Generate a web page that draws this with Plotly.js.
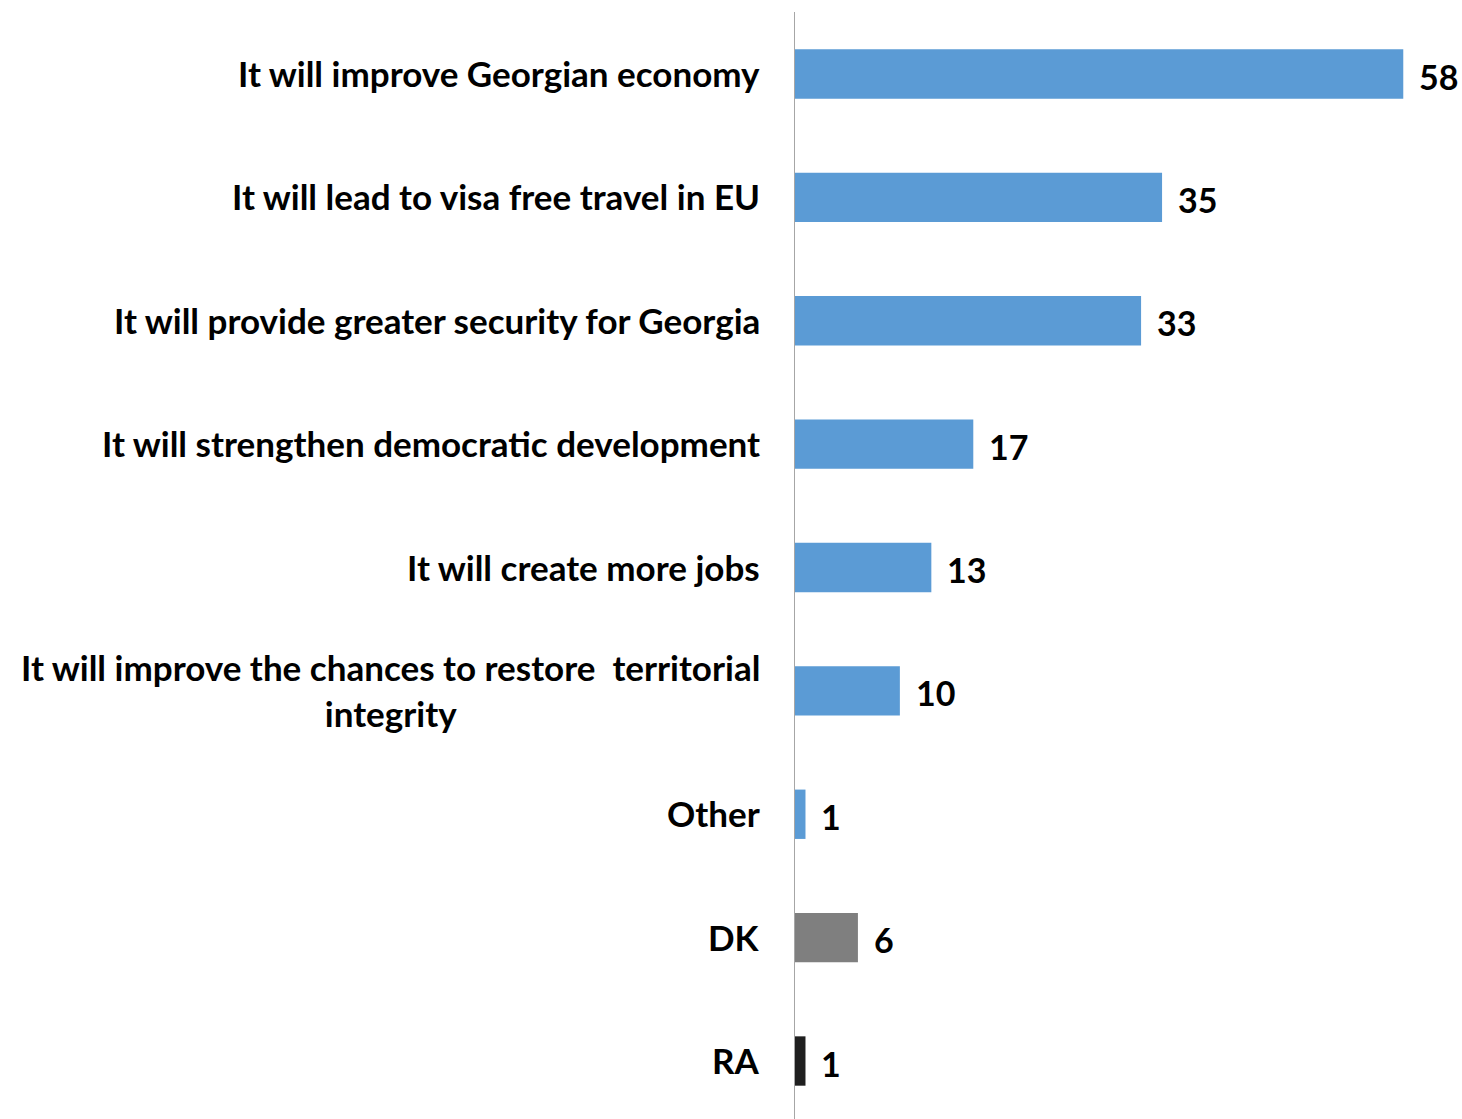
<!DOCTYPE html>
<html>
<head>
<meta charset="utf-8">
<script src="https://cdn.plot.ly/plotly-3.0.1.min.js"></script>
<style>html,body{margin:0;padding:0;background:#fff;}#chart{width:1462px;height:1119px;}</style>
</head>
<body>
<div id="chart"></div>
<script>
const categories = [
  "It will improve Georgian economy",
  "It will lead to visa free travel in EU",
  "It will provide greater security for Georgia",
  "It will strengthen democratic development",
  "It will create more jobs",
  "It will improve the chances to restore  territorial<br>integrity",
  "Other",
  "DK",
  "RA"
];
const values = [58, 35, 33, 17, 13, 10, 1, 6, 1];
const barColors = ["#5B9BD5","#5B9BD5","#5B9BD5","#5B9BD5","#5B9BD5","#5B9BD5","#5B9BD5","#7F7F7F","#1F1F1F"];

const FONT = "Lato, 'Open Sans', sans-serif";
const idx = categories.map((c, i) => i);

const trace = {
  type: "bar",
  orientation: "h",
  x: values,
  y: idx,
  width: 0.4,
  marker: {color: barColors},
  hoverinfo: "none"
};

const annotations = [];
categories.forEach((c, i) => {
  annotations.push({
    xref: "paper", yref: "y", x: 0, y: i,
    xanchor: "right", yanchor: "middle", xshift: -33, yshift: 1,
    text: "<b>" + c + "</b>", showarrow: false, align: "center",
    font: {family: FONT, size: 35, color: "#000"}
  });
  annotations.push({
    xref: "x", yref: "y", x: values[i], y: i,
    xanchor: "left", yanchor: "middle", xshift: 14, yshift: -2,
    text: "<b>" + values[i] + "</b>", showarrow: false,
    font: {family: FONT, size: 34, color: "#000"}
  });
});

const layout = {
  width: 1462, height: 1119,
  margin: {l: 795, r: 0, t: 12, b: 0, pad: 0},
  paper_bgcolor: "#fff", plot_bgcolor: "#fff",
  showlegend: false,
  bargap: 0.6,
  xaxis: {range: [0, 63.6], visible: false, fixedrange: true},
  yaxis: {
    range: [8.47, -0.5025], showticklabels: false, ticks: "",
    showgrid: false, zeroline: false,
    showline: true, linecolor: "#A6A6A6", linewidth: 1.5
  },
  annotations: annotations
};

Plotly.newPlot("chart", [trace], layout, {displayModeBar: false, staticPlot: true});
</script>
</body>
</html>
